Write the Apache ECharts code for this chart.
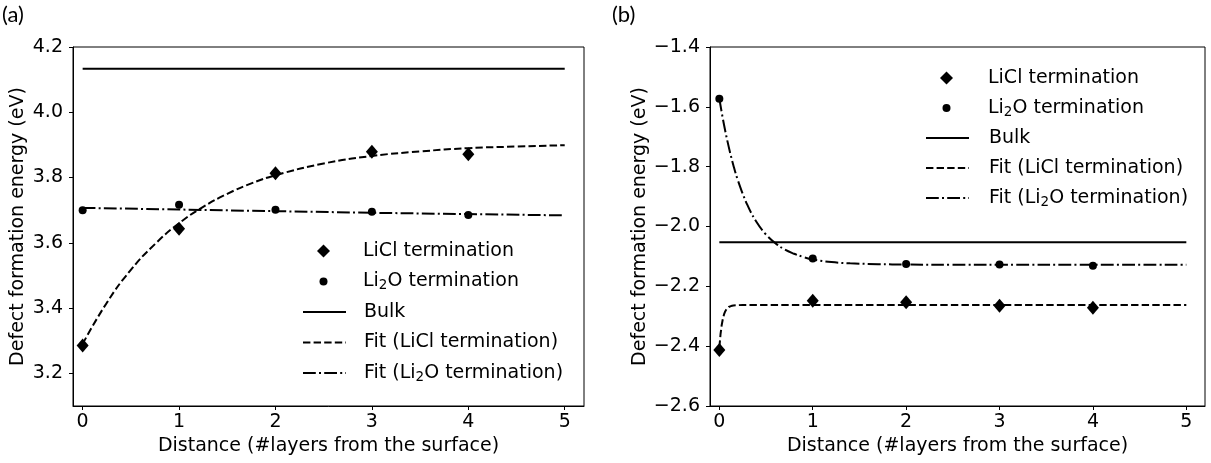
<!DOCTYPE html>
<html><head><meta charset="utf-8">
<script src="https://cdn.jsdelivr.net/npm/echarts@6/dist/echarts.min.js"></script>
<style>html,body{margin:0;padding:0;background:#fff}#c{width:1211px;height:463px}</style>
</head><body><div id="c"></div>
<script>
// ---------- data ----------
const xTicks = [0, 1, 2, 3, 4, 5];
const layers = [0, 1, 2, 3, 4];
const legendLabels = ['LiCl termination', 'Li2O termination', 'Bulk', 'Fit (LiCl termination)', 'Fit (Li2O termination)'];
const axisTitleX = 'Distance (#layers from the surface)';
const axisTitleY = 'Defect formation energy (eV)';
const panelLabels = ['(a)', '(b)'];

// panel (a)
const aTicksY = [3.2, 3.4, 3.6, 3.8, 4.0, 4.2];
const aLiCl = [3.285, 3.643, 3.813, 3.879, 3.871];
const aLi2O = [3.700, 3.717, 3.701, 3.695, 3.685];
const aBulk = 4.133;
const aFitLiClX = [0, 0.25, 0.5, 0.75, 1, 1.25, 1.5, 1.75, 2, 2.5, 3, 3.5, 4, 4.5, 5];
const aFitLiClY = [3.290, 3.416, 3.517, 3.596, 3.660, 3.710, 3.750, 3.782, 3.807, 3.843, 3.866, 3.880, 3.890, 3.895, 3.899];
const aFitLi2OX = [0, 1, 2, 3, 4, 5];
const aFitLi2OY = [3.707, 3.702, 3.697, 3.692, 3.688, 3.684];

// panel (b)
const bTicksY = [-2.6, -2.4, -2.2, -2.0, -1.8, -1.6, -1.4];
const bLiCl = [-2.413, -2.248, -2.253, -2.265, -2.272];
const bLi2O = [-1.573, -2.107, -2.125, -2.127, -2.131];
const bBulk = -2.053;
const bFitLiClX = [0, 0.0125, 0.025, 0.0375, 0.05, 0.0625, 0.075, 0.0875, 0.1, 0.125, 0.15, 0.2, 0.25, 1, 2, 3, 4, 5];
const bFitLiClY = [-2.405, -2.361, -2.330, -2.309, -2.294, -2.284, -2.277, -2.272, -2.269, -2.266, -2.264, -2.263, -2.262, -2.262, -2.262, -2.262, -2.262, -2.262];
const bFitLi2OX = [0, 0.05, 0.1, 0.15, 0.2, 0.3, 0.4, 0.5, 0.6, 0.7, 0.8, 0.9, 1.0, 1.2, 1.4, 1.7, 2.0, 2.5, 3, 4, 5];
const bFitLi2OY = [-1.573, -1.660, -1.733, -1.795, -1.847, -1.928, -1.986, -2.027, -2.056, -2.077, -2.091, -2.102, -2.110, -2.119, -2.123, -2.126, -2.127, -2.128, -2.128, -2.128, -2.128];

// ---------- helpers ----------
const FONT = 'DejaVu Sans';
const FS = 19;
const zip = (xs, ys) => xs.map((x, i) => [x, ys[i]]);
const fmtNum = v => (Math.round(v * 10) / 10).toFixed(1).replace('-', '\u2212');
const DASH = [7.4, 3.2];
const DASHDOT = [12.8, 3.2, 2, 3.2];

function subLabel(t) { return t.replace('Li2O', 'Li{s|2}O'); }

function grids() {
  return [
    { left: 73, top: 47, width: 511, height: 359, show: true, borderColor: '#000', borderWidth: 1, backgroundColor: 'transparent' },
    { left: 710, top: 47, width: 495, height: 359, show: true, borderColor: '#000', borderWidth: 1, backgroundColor: 'transparent' }
  ];
}
function xAxisFor(gi) {
  return {
    type: 'value', gridIndex: gi, min: -0.1, max: 5.2,
    name: axisTitleX, nameLocation: 'middle', nameGap: 29,
    nameTextStyle: { fontFamily: FONT, fontSize: FS, color: '#000' },
    axisLine: { show: true, onZero: false, lineStyle: { color: '#000', width: 1 } },
    axisTick: { show: true, inside: false, length: 4, customValues: xTicks, lineStyle: { color: '#000', width: 1 } },
    axisLabel: { customValues: xTicks, margin: 7, fontFamily: FONT, fontSize: FS, color: '#000', formatter: v => String(Math.round(v)) },
    splitLine: { show: false }
  };
}
function yAxisFor(gi, min, max, ticks, gap) {
  return {
    type: 'value', gridIndex: gi, min: min, max: max,
    name: axisTitleY, nameLocation: 'middle', nameGap: gap, nameRotate: 90,
    nameTextStyle: { fontFamily: FONT, fontSize: FS, color: '#000' },
    axisLine: { show: true, onZero: false, lineStyle: { color: '#000', width: 1 } },
    axisTick: { show: true, inside: false, length: 4, customValues: ticks, lineStyle: { color: '#000', width: 1 } },
    axisLabel: { customValues: ticks, margin: 10, fontFamily: FONT, fontSize: FS, color: '#000', formatter: fmtNum },
    splitLine: { show: false }
  };
}
function panelSeries(p, gi, licl, li2o, bulk, fitLiClX, fitLiClY, fitLi2OX, fitLi2OY, smoothA, smoothB) {
  const base = { xAxisIndex: gi, yAxisIndex: gi, animation: false, silent: true };
  return [
    Object.assign({}, base, { type: 'line', name: p + legendLabels[2], data: [[0, bulk], [5, bulk]], symbol: 'circle', showSymbol: false,
      lineStyle: { color: '#000', width: 2, type: 'solid' }, itemStyle: { color: '#000' }, z: 2 }),
    Object.assign({}, base, { type: 'line', name: p + legendLabels[3], data: zip(fitLiClX, fitLiClY), symbol: 'circle', showSymbol: false,
      smooth: smoothA, lineStyle: { color: '#000', width: 2, type: DASH }, itemStyle: { color: '#000' }, z: 2 }),
    Object.assign({}, base, { type: 'line', name: p + legendLabels[4], data: zip(fitLi2OX, fitLi2OY), symbol: 'circle', showSymbol: false,
      smooth: smoothB, lineStyle: { color: '#000', width: 2, type: DASHDOT }, itemStyle: { color: '#000' }, z: 2 }),
    Object.assign({}, base, { type: 'scatter', name: p + legendLabels[0], data: zip(layers, licl), symbol: 'diamond', symbolSize: [12, 14],
      itemStyle: { color: '#000', opacity: 1 }, z: 3 }),
    Object.assign({}, base, { type: 'scatter', name: p + legendLabels[1], data: zip(layers, li2o), symbol: 'circle', symbolSize: 8,
      itemStyle: { color: '#000', opacity: 1 }, z: 3 })
  ];
}
// iconCenter: x centre of the legend icon column, textX: x where the label text starts
function legendItem(p, idx, iconCenter, textX, cy) {
  const isLine = idx >= 2;
  const w = idx === 0 ? 13 : (idx === 1 ? 8 : 43);
  const h = idx === 0 ? 13 : (idx === 1 ? 8 : 14);
  const left = iconCenter - w / 2;
  const spW = textX - (left + w + 5);
  const o = {
    data: [p + legendLabels[idx]], left: left, top: cy - FS / 2, orient: 'vertical', padding: 0, itemGap: 0,
    itemWidth: w, itemHeight: h, selectedMode: false, symbolKeepAspect: true,
    formatter: n => '{sp|}' + subLabel(n.slice(2)),
    textStyle: { fontFamily: FONT, fontSize: FS, color: '#000',
      rich: { sp: { width: spW, height: 1, fontSize: FS, fontFamily: FONT },
              s: { fontSize: 13.5, fontFamily: FONT, color: '#000', padding: [8, 0, 0, 0] } } }
  };
  if (isLine) o.itemStyle = { opacity: 0 };
  return o;
}

const aRows = [251, 281.5, 312, 342.5, 373];
const bRows = [78, 108, 138, 168, 198];
const legends = [];
for (let i = 0; i < 5; i++) legends.push(legendItem('a|', i, 323.5, 363, aRows[i]));
for (let i = 0; i < 5; i++) legends.push(legendItem('b|', i, 946.5, 988, bRows[i]));

const chart = echarts.init(document.getElementById('c'), null, { renderer: 'canvas' });
chart.setOption({
  animation: false,
  backgroundColor: '#fff',
  grid: grids(),
  xAxis: [xAxisFor(0), xAxisFor(1)],
  yAxis: [yAxisFor(0, 3.1, 4.2, aTicksY, 45), yAxisFor(1, -2.6, -1.4, bTicksY, 58)],
  legend: legends,
  series: [].concat(
    panelSeries('a|', 0, aLiCl, aLi2O, aBulk, aFitLiClX, aFitLiClY, aFitLi2OX, aFitLi2OY, 0.5, 0),
    panelSeries('b|', 1, bLiCl, bLi2O, bBulk, bFitLiClX, bFitLiClY, bFitLi2OX, bFitLi2OY, 0, 0.4)
  ),
  graphic: [
    { type: 'text', left: 2, top: 4, style: { text: panelLabels[0], font: '22px Lato', fill: '#000' } },
    { type: 'text', left: 612, top: 4, style: { text: panelLabels[1], font: '22px Lato', fill: '#000' } }
  ]
});
</script></body></html>
